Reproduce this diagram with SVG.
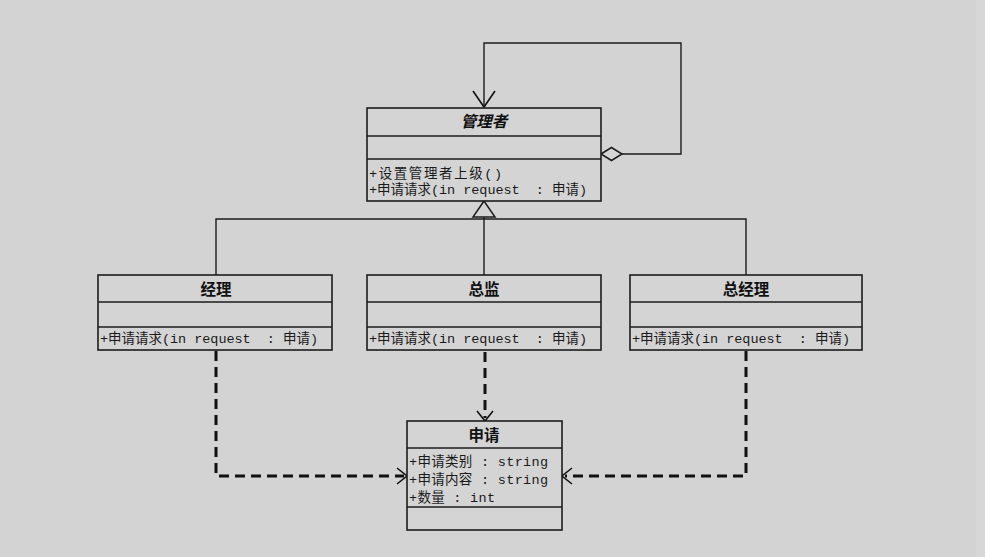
<svg xmlns="http://www.w3.org/2000/svg" width="985" height="557" viewBox="0 0 985 557">
  <defs>
    <style>
      .box { fill: #d4d4d4; stroke: #1c1c1c; stroke-width: 1.6; }
      .sep { stroke: #1c1c1c; stroke-width: 1.6; fill: none; }
      .line { stroke: #1c1c1c; stroke-width: 1.4; fill: none; }
      .dep { stroke: #111; stroke-width: 3; fill: none; stroke-dasharray: 10 6; }
      .head { stroke: #111; stroke-width: 1.6; fill: none; }
      .title { font-family: "Noto Sans CJK SC", sans-serif; font-size: 15.5px; font-weight: bold; fill: #111; text-anchor: middle; }
      .member { font-family: "Liberation Mono", "Noto Sans CJK SC", monospace; font-size: 13.5px; fill: #1a1a1a; white-space: pre; }
    </style>
  </defs>

  <!-- page -->
  <rect x="0" y="0" width="985" height="557" fill="#d3d3d3"/>
  <rect x="976" y="0" width="9" height="557" fill="#d7d7d7"/>

  <!-- connectors -->
  <g id="connectors">
    <!-- self aggregation on 管理者 -->
    <polyline class="line" points="622,154 681,154 681,43 484,43 484,107"/>
    <polygon points="601,154 611.5,147.5 622,154 611.5,160.5" fill="#d4d4d4" stroke="#1c1c1c" stroke-width="1.5"/>
    <polyline class="head" points="473,91 484,107 495,91"/>

    <!-- generalization -->
    <polyline class="line" points="216,275 216,219 746,219 746,275"/>
    <line class="line" x1="484" y1="217" x2="484" y2="275"/>
    <polygon points="484,201 473,217 495,217" fill="#d4d4d4" stroke="#1c1c1c" stroke-width="1.5"/>

    <!-- dependencies on 申请 -->
    <polyline class="dep" points="216,351 216,476 404,476"/>
    <polyline class="head" points="397,468 407,476 397,484"/>
    <polyline class="dep" points="746,351 746,476 565,476"/>
    <polyline class="head" points="572,468 562,476 572,484"/>
    <line class="dep" x1="485" y1="352" x2="485" y2="418"/>
    <polyline class="head" points="477,411 485,421 493,411"/>
  </g>

  <!-- 管理者 -->
  <g id="manager">
    <rect class="box" x="367" y="108" width="234" height="93"/>
    <line class="sep" x1="367" y1="136" x2="601" y2="136"/>
    <line class="sep" x1="367" y1="159" x2="601" y2="159"/>
    <text class="title" x="484" y="127" font-style="italic">管理者</text>
    <text class="member" x="369" y="178" textLength="133" lengthAdjust="spacing">+设置管理者上级()</text>
    <text class="member" x="369" y="194" textLength="218" lengthAdjust="spacing">+申请请求(in request  : 申请)</text>
  </g>

  <!-- 经理 -->
  <g id="jingli">
    <rect class="box" x="98" y="275" width="234" height="75"/>
    <line class="sep" x1="98" y1="302" x2="332" y2="302"/>
    <line class="sep" x1="98" y1="327" x2="332" y2="327"/>
    <text class="title" x="216" y="295">经理</text>
    <text class="member" x="100" y="343" textLength="218" lengthAdjust="spacing">+申请请求(in request  : 申请)</text>
  </g>

  <!-- 总监 -->
  <g id="zongjian">
    <rect class="box" x="367" y="275" width="234" height="75"/>
    <line class="sep" x1="367" y1="302" x2="601" y2="302"/>
    <line class="sep" x1="367" y1="327" x2="601" y2="327"/>
    <text class="title" x="484" y="295">总监</text>
    <text class="member" x="369" y="343" textLength="218" lengthAdjust="spacing">+申请请求(in request  : 申请)</text>
  </g>

  <!-- 总经理 -->
  <g id="zongjingli">
    <rect class="box" x="630" y="275" width="232" height="75"/>
    <line class="sep" x1="630" y1="302" x2="862" y2="302"/>
    <line class="sep" x1="630" y1="327" x2="862" y2="327"/>
    <text class="title" x="746" y="295">总经理</text>
    <text class="member" x="632" y="343" textLength="218" lengthAdjust="spacing">+申请请求(in request  : 申请)</text>
  </g>

  <!-- 申请 -->
  <g id="shenqing">
    <rect class="box" x="407" y="421" width="155" height="109"/>
    <line class="sep" x1="407" y1="448" x2="562" y2="448"/>
    <line class="sep" x1="407" y1="507" x2="562" y2="507"/>
    <text class="title" x="484" y="441">申请</text>
    <text class="member" x="409" y="466" textLength="139" lengthAdjust="spacing">+申请类别 : string</text>
    <text class="member" x="409" y="484" textLength="139" lengthAdjust="spacing">+申请内容 : string</text>
    <text class="member" x="409" y="502" textLength="86" lengthAdjust="spacing">+数量 : int</text>
  </g>
</svg>
